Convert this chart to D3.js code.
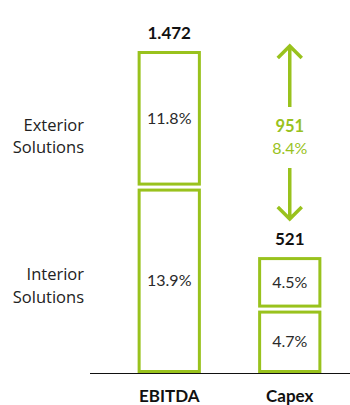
<!DOCTYPE html>
<html><head><meta charset="utf-8">
<script src="https://cdn.jsdelivr.net/npm/d3@7"></script>
<style>body{margin:0;background:#fff}svg{display:block}</style>
</head><body>
<script>
const categories = ["EBITDA", "Capex"];
const segments = ["Interior Solutions", "Exterior Solutions"];
const interiorValues = [851, 288];
const exteriorValues = [621, 233];
const interiorPct = ["13.9%", "4.7%"];
const exteriorPct = ["11.8%", "4.5%"];
const totals = ["1.472", "521"];
const deltaValue = "951";
const deltaPct = "8.4%";

const W = 350, H = 405;
const green = "#99c21d";
const svg = d3.select("body").append("svg").attr("width", W).attr("height", H);

const x = d3.scaleBand().domain(categories).range([109, 350]).paddingInner(0.5).paddingOuter(0.25);
const y = d3.scaleLinear().domain([0, 1472]).range([371.5, 52.5]);
const gap = 3;
const numFont = "Lato, 'Open Sans', sans-serif";

// baseline
svg.append("line").attr("x1", 90).attr("x2", 350).attr("y1", 373.5).attr("y2", 373.5)
  .attr("stroke", "#111").attr("stroke-width", 1);

categories.forEach((c, i) => {
  const bx = x(c), bw = x.bandwidth();
  const segs = [
    {v0: 0, v1: interiorValues[i], pct: interiorPct[i]},
    {v0: interiorValues[i], v1: interiorValues[i] + exteriorValues[i], pct: exteriorPct[i]}
  ];
  segs.forEach((s, k) => {
    const top = y(s.v1) + (k === 1 ? 0 : gap);
    const bot = y(s.v0) - (k === 0 ? 0 : gap);
    svg.append("rect").attr("x", bx).attr("y", top).attr("width", bw).attr("height", bot - top)
      .attr("fill", "#fff").attr("stroke", green).attr("stroke-width", 3);
    svg.append("text").attr("x", bx + bw / 2).attr("y", (top + bot) / 2)
      .attr("dy", "0.35em").attr("text-anchor", "middle")
      .attr("font-family", numFont).attr("font-size", 16).attr("font-weight", 400)
      .attr("fill", "#2a2a2a").text(s.pct);
  });
  // total label
  svg.append("text").attr("x", bx + bw / 2).attr("y", y(interiorValues[i] + exteriorValues[i]) - 14)
    .attr("text-anchor", "middle").attr("font-family", numFont).attr("font-size", 17)
    .attr("font-weight", 700).attr("fill", "#111").text(totals[i]);
  // category label
  svg.append("text").attr("x", bx + bw / 2).attr("y", 402)
    .attr("text-anchor", "middle").attr("font-family", numFont).attr("font-size", 17)
    .attr("font-weight", 700).attr("fill", "#111").text(c);
});

// left labels
const leftLabels = [
  {lines: ["Exterior", "Solutions"], yc: y(interiorValues[0] + exteriorValues[0] / 2), off: 11},
  {lines: ["Interior", "Solutions"], yc: y(interiorValues[0] / 2), off: 1}
];
leftLabels.forEach(l => {
  const t = svg.append("text").attr("text-anchor", "end").attr("font-family", "'Open Sans', sans-serif")
    .attr("font-size", 16.5).attr("fill", "#222");
  l.lines.forEach((ln, j) => {
    t.append("tspan").attr("x", 84).attr("y", l.yc + l.off + j * 22.5).text(ln);
  });
});

// delta annotation
const cx = x("Capex") + x.bandwidth() / 2;
svg.append("text").attr("x", cx).attr("y", 132).attr("text-anchor", "middle")
  .attr("font-family", numFont).attr("font-size", 16.5).attr("font-weight", 700)
  .attr("fill", green).text(deltaValue);
svg.append("text").attr("x", cx).attr("y", 154).attr("text-anchor", "middle")
  .attr("font-family", numFont).attr("font-size", 16).attr("font-weight", 400)
  .attr("fill", green).text(deltaPct);

function arrow(x0, yFrom, yTip) {
  const dir = yTip < yFrom ? 1 : -1;
  const p = d3.path();
  p.moveTo(x0, yFrom); p.lineTo(x0, yTip);
  p.moveTo(x0 - 12, yTip + dir * 12); p.lineTo(x0, yTip); p.lineTo(x0 + 12, yTip + dir * 12);
  svg.append("path").attr("d", p.toString()).attr("fill", "none")
    .attr("stroke", green).attr("stroke-width", 3.5).attr("stroke-linecap", "butt");
}
arrow(cx, 107, 46);
arrow(cx, 168, 219);
</script>
</body></html>
